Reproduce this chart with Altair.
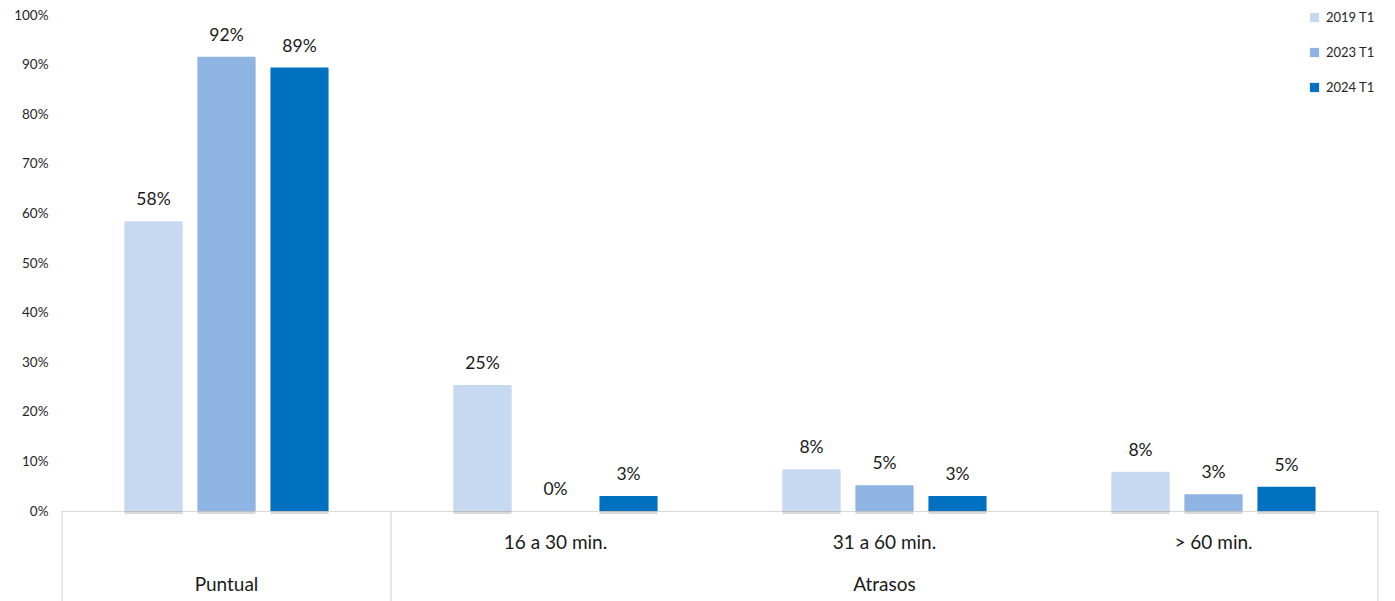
import altair as alt
import pandas as pd

categories = ["Puntual", "16 a 30 min.", "31 a 60 min.", "> 60 min."]
sub_labels = ["", "16 a 30 min.", "31 a 60 min.", "> 60 min."]
group_labels = ["Puntual", "Atrasos"]
group_anchor = ["Puntual", "31 a 60 min."]
series = ["2019 T1", "2023 T1", "2024 T1"]
colors = ["#c6d9f0", "#8eb4e3", "#0070c0"]
v2019 = [0.584, 0.254, 0.084, 0.079]
v2023 = [0.916, 0.0, 0.052, 0.034]
v2024 = [0.894, 0.030, 0.030, 0.049]
y_ticks = [0, 0.1, 0.2, 0.3, 0.4, 0.5, 0.6, 0.7, 0.8, 0.9, 1.0]

rows = []
for s, vals in zip(series, [v2019, v2023, v2024]):
    for c, v in zip(categories, vals):
        rows.append({"category": c, "series": s, "value": v})
df = pd.DataFrame(rows)

sub_df = pd.DataFrame({"category": categories, "label": sub_labels})
grp_df = pd.DataFrame({"category": group_anchor, "label": group_labels})
left_lines = pd.DataFrame({"category": ["Puntual", "16 a 30 min."]})
right_lines = pd.DataFrame({"category": ["> 60 min."]})

W, H = 1316, 496
FONT = "Lato"

xscale = alt.Scale(domain=categories, paddingInner=0, paddingOuter=0)
x_enc = alt.X("category:N", sort=categories, scale=xscale,
              axis=alt.Axis(labels=False, ticks=False, title=None,
                            domainColor="#d9d9d9", domainWidth=1.2))
xo_enc = alt.XOffset("series:N", sort=series,
                     scale=alt.Scale(domain=series, paddingInner=0.205, paddingOuter=0.856))
y_enc = alt.Y("value:Q", scale=alt.Scale(domain=[0, 1]),
              axis=alt.Axis(values=y_ticks, format=".0%", title=None, grid=False,
                            domain=False, ticks=False, labelPadding=14,
                            labelFont=FONT, labelFontSize=13.5, labelColor="#262626"))

base = alt.Chart(df)

shadow = base.transform_filter("datum.value > 0").mark_bar(
    color="#808080", opacity=0.3, xOffset=3, x2Offset=3, yOffset=3, y2Offset=3
).encode(x=x_enc, xOffset=xo_enc, y=y_enc)

bars = base.mark_bar().encode(
    x=x_enc, xOffset=xo_enc, y=y_enc,
    color=alt.Color("series:N", sort=series,
                    scale=alt.Scale(domain=series, range=colors),
                    legend=alt.Legend(orient="none", legendX=1246, legendY=-4, title=None,
                                      symbolType="square", symbolSize=85,
                                      symbolStrokeWidth=0, labelFont=FONT,
                                      labelFontSize=13, labelColor="#262626",
                                      rowPadding=21, labelOffset=5)),
)

labels = base.mark_text(baseline="alphabetic", dy=-16, font=FONT, fontSize=17.5,
                        color="#1a1a1a").encode(
    x=x_enc, xOffset=xo_enc, y=y_enc,
    text=alt.Text("value:Q", format=".0%"),
)

sub_text = alt.Chart(sub_df).mark_text(baseline="middle", font=FONT, fontSize=19,
                                       color="#1a1a1a").encode(
    x=alt.X("category:N", sort=categories, scale=xscale),
    y=alt.value(H + 32), text="label:N")

grp_text = alt.Chart(grp_df).mark_text(baseline="middle", font=FONT, fontSize=19,
                                       color="#1a1a1a").encode(
    x=alt.X("category:N", sort=categories, scale=xscale),
    y=alt.value(H + 74), text="label:N")

vl_left = alt.Chart(left_lines).mark_rule(color="#d9d9d9", strokeWidth=1.2).encode(
    x=alt.X("category:N", sort=categories, scale=xscale, bandPosition=0),
    y=alt.value(H), y2=alt.value(H + 100))
vl_right = alt.Chart(right_lines).mark_rule(color="#d9d9d9", strokeWidth=1.2).encode(
    x=alt.X("category:N", sort=categories, scale=xscale, bandPosition=1),
    y=alt.value(H), y2=alt.value(H + 100))

chart = alt.layer(shadow, bars, labels, sub_text, grp_text, vl_left, vl_right).properties(
    width=W, height=H,
    autosize=alt.AutoSizeParams(type="none"),
    padding={"left": 54, "top": 7, "right": 9, "bottom": 90},
).configure_view(stroke=None).configure_axis(labelFont=FONT)

chart.save("out.html", embed_options={"renderer": "svg", "actions": False})
